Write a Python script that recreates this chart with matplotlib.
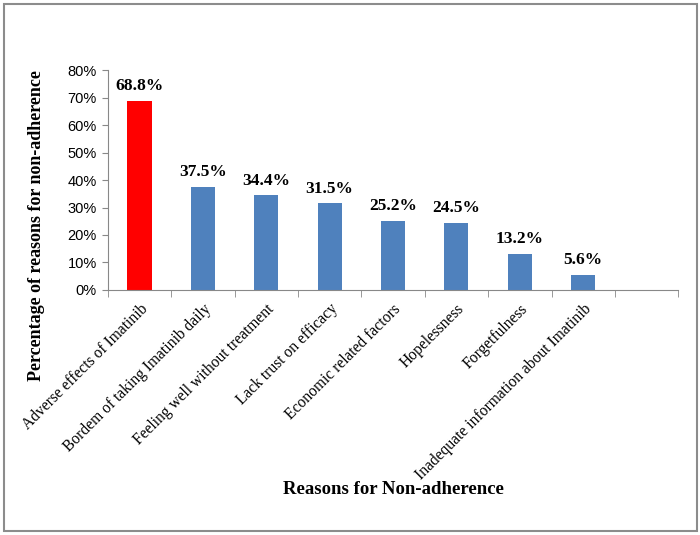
import matplotlib
matplotlib.use('Agg')
import matplotlib.pyplot as plt
from matplotlib.patches import Rectangle
from matplotlib.ticker import PercentFormatter

# 비순응 이유별 비율
reasons = [
    'Adverse effects of Imatinib',
    'Bordem of taking Imatinib daily',
    'Feeling well without treatment',
    'Lack trust on efficacy',
    'Economic related factors',
    'Hopelessness',
    'Forgetfulness',
    'Inadequate information about Imatinib',
]
percents = [68.8, 37.5, 34.4, 31.5, 25.2, 24.5, 13.2, 5.6]
colors = ['#ff0000'] + ['#4f81bd'] * 7

serif = 'Liberation Serif'
sans = 'Liberation Sans'

fig = plt.figure(figsize=(7, 5.35), dpi=100)
ax = fig.add_axes([0.154, 0.458, 0.815, 0.411])

x = list(range(len(reasons)))
bars = ax.bar(x, percents, width=0.38, color=colors, zorder=2)

for b, v in zip(bars, percents):
    ax.text(b.get_x() + b.get_width() / 2, v + 2.5, f'{v}%', ha='center', va='bottom',
            fontsize=12.5, fontweight='bold', family=serif)

ax.set_xlim(-0.5, 8.5)
ax.set_ylim(0, 80)
ax.set_yticks(range(0, 81, 10))
ax.yaxis.set_major_formatter(PercentFormatter(decimals=0))
for lbl in ax.get_yticklabels():
    lbl.set_family(sans)
    lbl.set_fontsize(10.5)
ax.tick_params(axis='y', direction='out', length=4, color='#888888', pad=4)

ax.set_xticks(x)
ax.set_xticklabels(reasons, rotation=45, ha='right', rotation_mode='anchor',
                   family=serif, fontsize=11.2)
ax.tick_params(axis='x', which='major', length=0, pad=8)
ax.set_xticks([i - 0.5 for i in range(10)], minor=True)
ax.tick_params(axis='x', which='minor', direction='out', length=5, color='#888888')

ax.spines['top'].set_visible(False)
ax.spines['right'].set_visible(False)
ax.spines['left'].set_color('#888888')
ax.spines['bottom'].set_color('#888888')

fig.text(0.052, 0.579, 'Percentage of reasons for non-adherence', rotation=90,
         ha='center', va='center', fontsize=13, fontweight='bold', family=serif)
fig.text(0.562, 0.085, 'Reasons for Non-adherence', ha='center', va='center',
         fontsize=13.5, fontweight='bold', family=serif)

# 바깥 테두리
fig.patches.append(Rectangle((0.006, 0.007), 0.99, 0.985, transform=fig.transFigure,
                             fill=False, edgecolor='#8c8c8c', linewidth=1.5))

fig.savefig('out.png', dpi=100)
